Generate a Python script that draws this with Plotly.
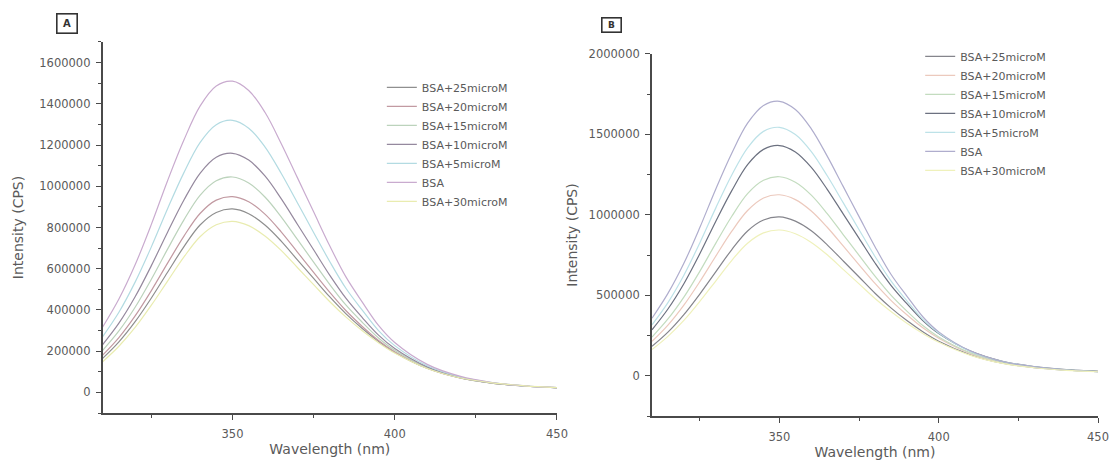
import plotly.graph_objects as go

wavelength = [310, 315, 320, 325, 330, 335, 340, 345, 350, 355, 360, 365, 370,
              375, 380, 385, 390, 395, 400, 410, 420, 430, 440, 450]

series_names = ["BSA+25microM", "BSA+20microM", "BSA+15microM", "BSA+10microM",
                "BSA+5microM", "BSA", "BSA+30microM"]

# Panel A intensities (CPS, in thousands)
a_bsa25 = [165, 245, 343, 458, 583, 706, 812, 873, 890, 867, 812, 734, 643, 553, 463, 381, 310, 247, 194, 117, 71, 45, 31, 23]
a_bsa20 = [181, 266, 371, 494, 627, 757, 868, 933, 950, 925, 865, 779, 681, 582, 485, 396, 320, 252, 197, 117, 70, 45, 31, 23]
a_bsa15 = [204, 298, 413, 549, 695, 836, 956, 1027, 1045, 1016, 948, 852, 742, 632, 523, 423, 340, 264, 204, 120, 72, 45, 31, 22]
a_bsa10 = [232, 336, 464, 615, 777, 932, 1063, 1141, 1160, 1127, 1050, 940, 816, 692, 568, 456, 363, 278, 213, 124, 73, 46, 31, 22]
a_bsa5 = [271, 389, 535, 706, 891, 1065, 1212, 1299, 1320, 1282, 1191, 1063, 920, 776, 634, 504, 399, 300, 227, 129, 76, 48, 32, 23]
a_bsa = [317, 453, 619, 815, 1027, 1223, 1389, 1487, 1510, 1465, 1359, 1208, 1042, 876, 710, 559, 438, 325, 242, 136, 79, 48, 32, 23]
a_bsa30 = [149, 224, 315, 423, 540, 656, 755, 813, 830, 809, 759, 689, 606, 523, 440, 365, 299, 241, 191, 116, 71, 46, 32, 23]

# Panel B intensities (CPS, in thousands)
b_bsa25 = [183, 271, 380, 508, 646, 783, 900, 968, 987, 961, 901, 814, 714, 614, 513, 422, 343, 274, 215, 130, 78, 50, 35, 26]
b_bsa20 = [214, 315, 439, 585, 743, 897, 1027, 1105, 1125, 1095, 1024, 923, 807, 690, 574, 469, 379, 298, 233, 138, 83, 53, 36, 27]
b_bsa15 = [241, 353, 489, 649, 823, 990, 1132, 1215, 1237, 1203, 1123, 1008, 878, 748, 619, 501, 402, 312, 241, 142, 85, 54, 36, 27]
b_bsa10 = [286, 415, 572, 758, 959, 1149, 1312, 1407, 1431, 1391, 1295, 1159, 1006, 854, 701, 562, 448, 343, 262, 153, 90, 57, 38, 28]
b_bsa5 = [317, 455, 625, 826, 1042, 1246, 1417, 1519, 1544, 1499, 1393, 1243, 1076, 908, 741, 590, 466, 351, 266, 151, 89, 56, 37, 26]
b_bsa = [358, 512, 699, 921, 1160, 1382, 1570, 1680, 1706, 1655, 1535, 1365, 1177, 989, 802, 631, 495, 367, 273, 154, 89, 55, 36, 26]
b_bsa30 = [163, 245, 344, 462, 589, 716, 824, 888, 906, 883, 829, 752, 661, 571, 480, 399, 326, 263, 208, 127, 77, 50, 34, 25]

a_series = [a_bsa25, a_bsa20, a_bsa15, a_bsa10, a_bsa5, a_bsa, a_bsa30]
b_series = [b_bsa25, b_bsa20, b_bsa15, b_bsa10, b_bsa5, b_bsa, b_bsa30]

a_colors = ["#8f8f8f", "#c29aa2", "#bcd3bc", "#95899e", "#b3dbe2", "#c9abcf", "#e9ecb0"]
b_colors = ["#85858c", "#ecc9bd", "#c3dcbf", "#6c7180", "#bde2e8", "#afadcd", "#eff1bb"]

FONT = "DejaVu Sans, Verdana, sans-serif"
GRAY = "#5a5a5a"

fig = go.Figure()

for name, vals, col in zip(series_names, a_series, a_colors):
    fig.add_trace(go.Scatter(
        x=wavelength, y=[v * 1000 for v in vals], name=name, mode="lines",
        line=dict(color=col, width=1.2, shape="spline"),
        xaxis="x", yaxis="y", legend="legend"))

for name, vals, col in zip(series_names, b_series, b_colors):
    fig.add_trace(go.Scatter(
        x=wavelength, y=[v * 1000 for v in vals], name=name, mode="lines",
        line=dict(color=col, width=1.2, shape="spline"),
        xaxis="x2", yaxis="y2", legend="legend2"))

axis_common = dict(
    showline=True, linecolor="#4a4a4a", linewidth=1.8, mirror=False,
    ticks="outside", ticklen=5, tickwidth=1.3, tickcolor="#4a4a4a",
    showgrid=False, zeroline=False, automargin=False,
    tickfont=dict(family=FONT, size=11.5, color=GRAY),
)

title_font = dict(family=FONT, size=14, color=GRAY)
minor_style = dict(ticks="outside", ticklen=3, tickcolor="#4a4a4a", tickwidth=1.2)

fig.update_layout(
    width=1110, height=461,
    margin=dict(l=0, r=0, t=0, b=0),
    paper_bgcolor="white", plot_bgcolor="white",
    xaxis=dict(domain=[0.0925, 0.5018], range=[310, 450], tick0=300, dtick=50,
               minor=dict(dtick=25, **minor_style), ticklabelstandoff=4,
               title=dict(text="Wavelength (nm)", font=title_font, standoff=4),
               anchor="y", **axis_common),
    yaxis=dict(domain=[0.1041, 0.9089], range=[-100000, 1700000], dtick=200000,
               tickformat="d", ticklabelstandoff=3,
               minor=dict(dtick=100000, **minor_style),
               title=dict(text="Intensity (CPS)", font=title_font, standoff=12),
               anchor="x", **axis_common),
    xaxis2=dict(domain=[0.5874, 0.9892], range=[310, 450], tick0=300, dtick=50,
                minor=dict(dtick=25, **minor_style), ticklabelstandoff=4,
                title=dict(text="Wavelength (nm)", font=title_font, standoff=4),
                anchor="y2", **axis_common),
    yaxis2=dict(domain=[0.0976, 0.8829], range=[-250000, 2000000], dtick=500000,
                tickformat="d", ticklabelstandoff=3,
                minor=dict(dtick=250000, **minor_style),
                title=dict(text="Intensity (CPS)", font=title_font, standoff=8),
                anchor="x2", **axis_common),
    legend=dict(x=0.344, y=0.842, xanchor="left", yanchor="top",
                bgcolor="rgba(0,0,0,0)", tracegroupgap=0, itemwidth=30,
                font=dict(family=FONT, size=11, color=GRAY)),
    legend2=dict(x=0.829, y=0.909, xanchor="left", yanchor="top",
                 bgcolor="rgba(0,0,0,0)", tracegroupgap=0, itemwidth=30,
                 font=dict(family=FONT, size=11, color=GRAY)),
    annotations=[
        dict(text="<b>A</b>", x=67 / 1110, y=1 - 23 / 461, xref="paper", yref="paper",
             xanchor="center", yanchor="middle",
             showarrow=False, bordercolor="#333333", borderwidth=1.6, borderpad=2,
             width=15, height=14,
             font=dict(family=FONT, size=10, color="#333333")),
        dict(text="<b>B</b>", x=611 / 1110, y=1 - 25 / 461, xref="paper", yref="paper",
             xanchor="center", yanchor="middle",
             showarrow=False, bordercolor="#333333", borderwidth=1.6, borderpad=1,
             width=16, height=11,
             font=dict(family=FONT, size=9, color="#333333")),
    ],
)

fig.write_html("out.html", config={"displayModeBar": False},
               post_script="document.body.style.margin='0';document.body.style.padding='0';")
